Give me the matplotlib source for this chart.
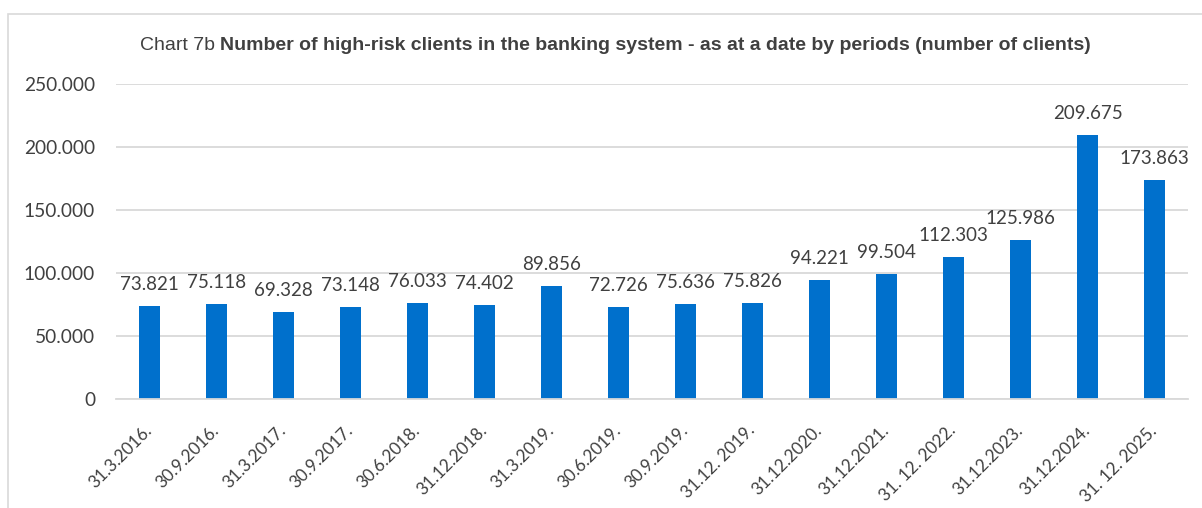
import matplotlib
matplotlib.use("Agg")
import matplotlib.pyplot as plt
import matplotlib.patches as patches
import matplotlib.transforms as mtransforms
from matplotlib.ticker import FuncFormatter

# ---- data ----
periods = ["31.3.2016.", "30.9.2016.", "31.3.2017.", "30.9.2017.", "30.6.2018.",
           "31.12.2018.", "31.3.2019.", "30.6.2019.", "30.9.2019.", "31.12. 2019.",
           "31.12.2020.", "31.12.2021.", "31. 12. 2022.", "31.12.2023.", "31.12.2024.",
           "31. 12. 2025."]
clients = [73821, 75118, 69328, 73148, 76033, 74402, 89856, 72726, 75636, 75826,
           94221, 99504, 112303, 125986, 209675, 173863]
yticks = [0, 50000, 100000, 150000, 200000, 250000]

barColor = "#0070CC"
gridColor = "#D9D9D9"
textColor = "#404040"
labelFont = "Lato"
titleFont = "Liberation Sans"


def dotted(v, pos=None):
    # thousands separated by a dot
    return "{:,}".format(int(v)).replace(",", ".")


fig = plt.figure(figsize=(12.02, 5.08), dpi=100)
ax = fig.add_axes([116/1202, 1-399/508, (1188-116)/1202, (399-84)/508])

x = range(len(periods))
ax.bar(x, clients, width=0.31, color=barColor, zorder=3)

for i, v in enumerate(clients):
    ax.annotate(dotted(v), xy=(i, v), xytext=(0, 13), textcoords="offset pixels",
                ha="center", va="bottom", fontsize=13.5, family=labelFont,
                color=textColor, zorder=4)

ax.set_xlim(-0.5, len(periods)-0.5)
ax.set_ylim(0, 250000)
ax.set_yticks(yticks)
ax.yaxis.set_major_formatter(FuncFormatter(dotted))
ax.set_xticks(list(x))
ax.set_xticklabels(periods, rotation=45, ha="right", va="center",
                   rotation_mode="anchor", family=labelFont, fontsize=12.3,
                   color=textColor)
# nudge the rotated date labels a little to the right
shift = mtransforms.ScaledTranslation(4/100, 0, fig.dpi_scale_trans)
for lab in ax.get_xticklabels():
    lab.set_transform(lab.get_transform() + shift)
for lab in ax.get_yticklabels():
    lab.set_family(labelFont)
    lab.set_fontsize(13.8)
    lab.set_color(textColor)
ax.tick_params(axis="x", length=0, pad=21)
ax.tick_params(axis="y", length=0, pad=15)

ax.grid(axis="y", color=gridColor, linewidth=1.3, zorder=0)
for side in ["top", "right", "left"]:
    ax.spines[side].set_visible(False)
ax.spines["bottom"].set_color(gridColor)
ax.spines["bottom"].set_linewidth(1.3)
ax.spines["bottom"].set_zorder(5)

# title: regular prefix followed by bold text
t1 = fig.text(140/1202, 1-45/508, "Chart 7b ", ha="left", va="center",
              family=titleFont, fontsize=14, color=textColor)
ax.annotate("Number of high-risk clients in the banking system - as at a date by periods (number of clients)",
            xy=(1, 0), xycoords=t1, va="bottom", ha="left", family=titleFont,
            fontsize=14, fontweight="bold", color=textColor, annotation_clip=False)

# chart area border
frame = patches.Rectangle((8/1202, -0.1), 1.2, 1.1-14/508, transform=fig.transFigure,
                          fill=False, edgecolor=gridColor, linewidth=1.2)
fig.patches.append(frame)

fig.savefig("out.png", dpi=100, facecolor="white")
